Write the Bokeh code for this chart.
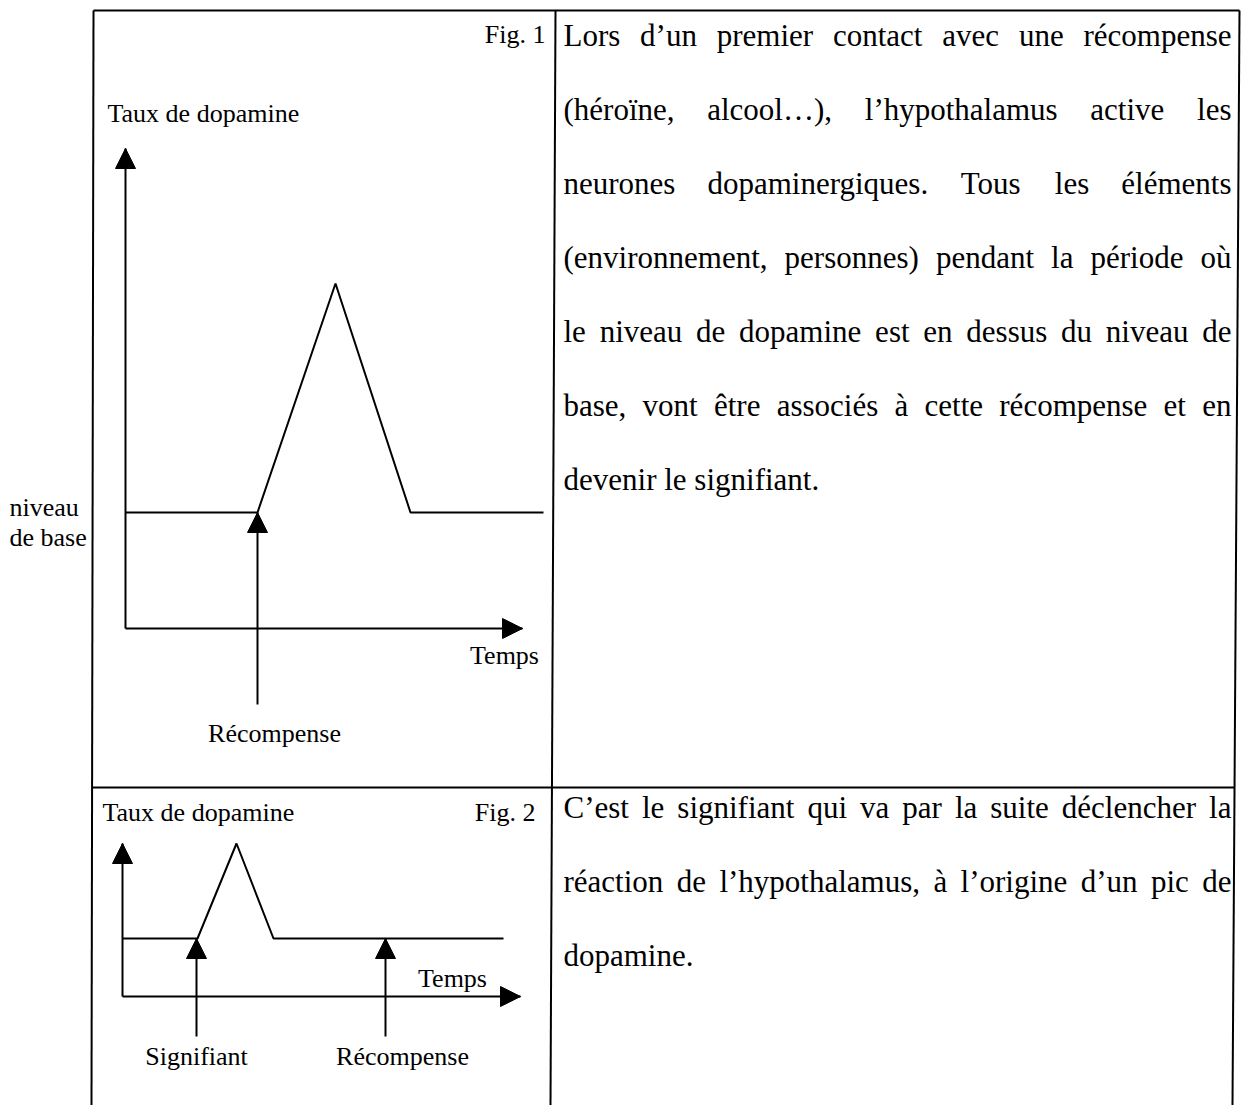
from bokeh.plotting import figure
from bokeh.models import Range1d
from bokeh.core.properties import value
from bokeh.embed import file_html
from bokeh.resources import INLINE

# ---------------- data (page pixel coordinates, y grows downward) ----------------
# table frame segments
frame_xs = [[93, 1239], [93, 91], [555, 550], [1239, 1232], [92, 1234]]
frame_ys = [[10, 10], [10, 1105], [10, 1105], [10, 1105], [787, 787]]

# Fig. 1 dopamine curve
fig1_time = [125, 257, 335, 410, 543]
fig1_level = [512, 512, 283, 512, 512]
# Fig. 2 dopamine curve
fig2_time = [122, 197, 236, 273, 503]
fig2_level = [938, 938, 843, 938, 938]

# arrows: tail x, tail y, tip x, tip y
arrow_tail_x = [125, 125, 257, 122, 122, 196, 385]
arrow_tail_y = [628, 628, 704, 996, 996, 1036, 1036]
arrow_tip_x = [125, 522, 257, 122, 520, 196, 385]
arrow_tip_y = [148, 628, 512, 843, 996, 938, 938]

# diagram labels
lab_left_text = ["Taux de dopamine", "niveau", "de base", "Taux de dopamine"]
lab_left_x = [107, 9, 9, 102]
lab_left_y = [113, 507, 537, 812]
lab_center_text = ["Temps", "Récompense", "Temps", "Signifiant", "Récompense"]
lab_center_x = [504, 274, 452, 196, 402]
lab_center_y = [655, 733, 978, 1056, 1056]
lab_right_text = ["Fig. 1", "Fig. 2"]
lab_right_x = [545, 535]
lab_right_y = [34, 812]

# right-hand paragraphs (line breaks as in the source)
para1_lines = [
    "Lors d\u2019un premier contact avec une récompense",
    "(héroïne, alcool\u2026), l\u2019hypothalamus active les",
    "neurones dopaminergiques. Tous les éléments",
    "(environnement, personnes) pendant la période où",
    "le niveau de dopamine est en dessus du niveau de",
    "base, vont être associés à cette récompense et en",
    "devenir le signifiant.",
]
para1_baselines = [35, 109, 183, 257, 331, 405, 479]
para2_lines = [
    "C\u2019est le signifiant qui va par la suite déclencher la",
    "réaction de l\u2019hypothalamus, à l\u2019origine d\u2019un pic de",
    "dopamine.",
]
para2_baselines = [807, 881, 955]

# ---------------- layout helpers ----------------
FONT = "Liberation Serif"
BODY_SIZE = 31
LABEL_SIZE = 26
TEXT_LEFT = 563
TEXT_RIGHT = 1231

# Times/Liberation Serif advance widths (per 1000 em)
ADV = {' ': 250, 'a': 444, 'b': 500, 'c': 444, 'd': 500, 'e': 444, 'f': 333, 'g': 500,
       'h': 500, 'i': 278, 'j': 278, 'k': 500, 'l': 278, 'm': 778, 'n': 500, 'o': 500,
       'p': 500, 'q': 500, 'r': 333, 's': 389, 't': 278, 'u': 500, 'v': 500, 'w': 722,
       'x': 500, 'y': 500, 'z': 444, 'C': 667, 'L': 611, 'T': 611, 'R': 667, 'S': 556,
       '(': 333, ')': 333, ',': 250, '.': 250, '\u2019': 333, '\u2026': 1000,
       'é': 444, 'è': 444, 'ê': 444, 'à': 444, 'ù': 500, 'ï': 278}


def width(s, size):
    return sum(ADV.get(ch, 500) for ch in s) * size / 1000.0


def layout_paragraph(lines, baselines):
    xs, ys, ws = [], [], []
    for k, (line, yb) in enumerate(zip(lines, baselines)):
        words = line.split(" ")
        last = (k == len(lines) - 1)
        if last or len(words) == 1:
            gap = ADV[' '] * BODY_SIZE / 1000.0
        else:
            total = sum(width(w, BODY_SIZE) for w in words)
            gap = (TEXT_RIGHT - TEXT_LEFT - total) / (len(words) - 1)
        x = TEXT_LEFT
        for w in words:
            xs.append(x)
            ys.append(yb)
            ws.append(w)
            x += width(w, BODY_SIZE) + gap
    return xs, ys, ws


def head(tx, ty, hx, hy, length=20, half=10):
    dx, dy = hx - tx, hy - ty
    n = (dx * dx + dy * dy) ** 0.5
    ux, uy = dx / n, dy / n
    bx, by = hx - ux * length, hy - uy * length
    px, py = -uy, ux
    return [hx, bx + px * half, bx - px * half], [hy, by + py * half, by - py * half]


# ---------------- figure ----------------
W, H = 1241, 1105
p = figure(width=W, height=H, output_backend="svg", toolbar_location=None,
           x_range=Range1d(0, W), y_range=Range1d(H, 0),
           min_border=0, background_fill_color="white", border_fill_color="white")
p.axis.visible = False
p.grid.visible = False
p.outline_line_color = None

p.multi_line(frame_xs, frame_ys, line_color="black", line_width=2)

p.line(fig1_time, fig1_level, line_color="black", line_width=2)
p.line(fig2_time, fig2_level, line_color="black", line_width=2)

shaft_xs = [[a, b] for a, b in zip(arrow_tail_x, arrow_tip_x)]
shaft_ys = [[a, b] for a, b in zip(arrow_tail_y, arrow_tip_y)]
p.multi_line(shaft_xs, shaft_ys, line_color="black", line_width=2)
hx, hy = [], []
for a, b, c, d in zip(arrow_tail_x, arrow_tail_y, arrow_tip_x, arrow_tip_y):
    xx, yy = head(a, b, c, d)
    hx.append(xx)
    hy.append(yy)
p.patches(hx, hy, fill_color="black", line_color="black", line_width=1)

common = dict(text_font=value(FONT), text_font_size=f"{LABEL_SIZE}px",
              text_baseline="alphabetic", text_color="black")
p.text(lab_left_x, lab_left_y, text=lab_left_text, text_align="left", **common)
p.text(lab_center_x, lab_center_y, text=lab_center_text, text_align="center", **common)
p.text(lab_right_x, lab_right_y, text=lab_right_text, text_align="right", **common)

bx1, by1, bt1 = layout_paragraph(para1_lines, para1_baselines)
bx2, by2, bt2 = layout_paragraph(para2_lines, para2_baselines)
body = dict(text_font=value(FONT), text_font_size=f"{BODY_SIZE}px",
            text_baseline="alphabetic", text_color="black", text_align="left")
p.text(bx1 + bx2, by1 + by2, text=bt1 + bt2, **body)

open("out.html", "w").write(file_html(p, INLINE))
